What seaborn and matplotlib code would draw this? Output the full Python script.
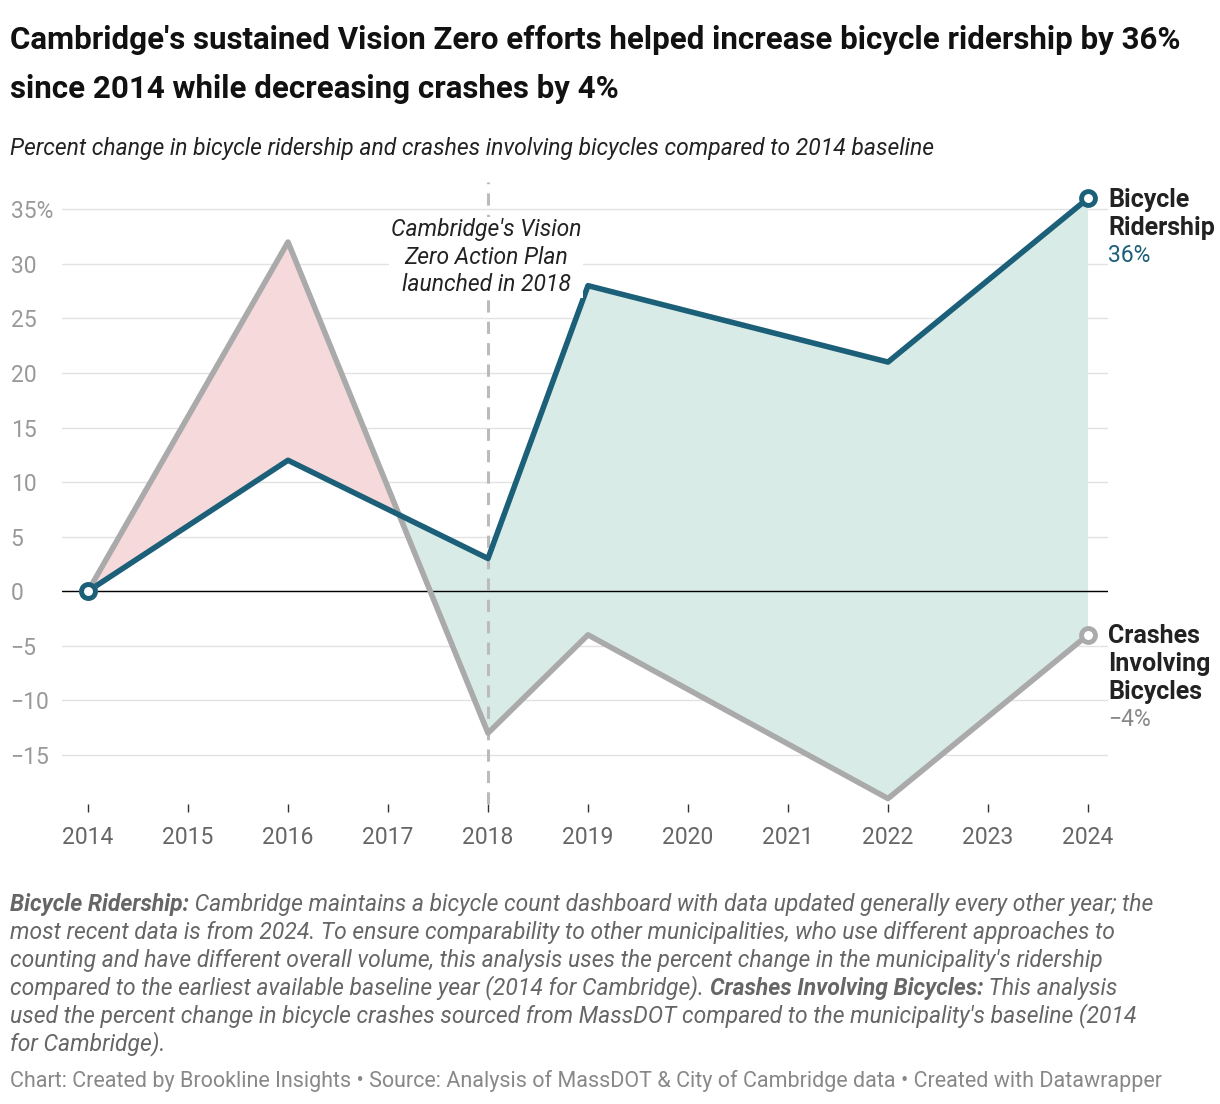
import matplotlib
matplotlib.use("Agg")
import matplotlib.pyplot as plt
import seaborn as sns
import numpy as np
import pandas as pd

years = [2014, 2016, 2018, 2019, 2022, 2024]
ridership = [0, 12, 3, 28, 21, 36]
crashes = [0, 32, -13, -4, -19, -4]
yticks = [-15, -10, -5, 0, 5, 10, 15, 20, 25, 30, 35]
ytick_labels = ["−15", "−10", "−5", "0", "5", "10", "15", "20", "25", "30", "35%"]
xticks = list(range(2014, 2025))

sns.set_theme(style="white")
plt.rcParams['font.family'] = ['Roboto', 'DejaVu Sans']

W, H = 1220, 1104
fig = plt.figure(figsize=(W/100, H/100), dpi=100)
L, R, T, B = 62, 1108, 182, 804
ax = fig.add_axes([L/W, 1-B/H, (R-L)/W, (B-T)/H])
ax.set_xlim(2014 - (88-L)/100, 2024 + (R-1088)/100)
ax.set_ylim(-19.5, 37.5)

BLUE = "#1b5f78"
GRAY = "#aaaaaa"
x = np.array(years, float); r = np.array(ridership, float); c = np.array(crashes, float)
ax.fill_between(x, r, c, where=c >= r, interpolate=True, color="#f6dadb", lw=0, zorder=1)
ax.fill_between(x, r, c, where=r >= c, interpolate=True, color="#d8ebe7", lw=0, zorder=1)

for yv in yticks:
    ax.axhline(yv, color="#e2e2e2", lw=1, zorder=0)
ax.axhline(0, color="black", lw=1, zorder=2)
ax.axvline(2018, color="#bbbbbb", lw=2.2, ls=(0, (4, 3)), zorder=2)

df = pd.DataFrame({"year": years * 2, "value": crashes + ridership,
                   "series": ["Crashes"] * 6 + ["Ridership"] * 6})
sns.lineplot(data=df, x="year", y="value", hue="series", palette={"Crashes": GRAY, "Ridership": BLUE},
             lw=4, ax=ax, legend=False, zorder=3)
for yy, col in [(crashes, GRAY), (ridership, BLUE)]:
    ax.plot([years[0], years[-1]], [yy[0], yy[-1]], 'o', ms=10, mfc="white", mec=col, mew=3.5, zorder=4)

ax.set_xticks(xticks)
ax.set_xticklabels([str(v) for v in xticks], fontsize=16.5, color="#666666")
ax.set_yticks(yticks)
ax.set_yticklabels(ytick_labels, fontsize=16.5, color="#999999", ha="left")
ax.tick_params(axis="y", length=0, pad=37)
ax.tick_params(axis="x", length=6, width=1, color="#333333", pad=10, direction="out", bottom=True)
ax.set_xlabel(""); ax.set_ylabel("")
for s in ax.spines.values():
    s.set_visible(False)

ax.text(2017.98, 30.6, "Cambridge's Vision\nZero Action Plan\nlaunched in 2018", ha="center", va="center",
        fontsize=16.5, style="italic", color="#222222", linespacing=1.25,
        bbox=dict(facecolor="white", edgecolor="none", pad=1))

fig.text(1108/W, 1-214/H, "Bicycle\nRidership", fontsize=18, fontweight="bold", color="#222222",
         va="center", linespacing=1.2)
fig.text(1108/W, 1-256/H, "36%", fontsize=16.5, color=BLUE, va="center")
fig.text(1108/W, 1-664/H, "Crashes\nInvolving\nBicycles", fontsize=18, fontweight="bold", color="#222222",
         va="center", linespacing=1.2)
fig.text(1108/W, 1-720/H, "−4%", fontsize=16.5, color="#888888", va="center")

fig.text(10/W, 1-40/H, "Cambridge's sustained Vision Zero efforts helped increase bicycle ridership by 36%",
         fontsize=22.5, fontweight="bold", color="#111111", va="center")
fig.text(10/W, 1-89/H, "since 2014 while decreasing crashes by 4%",
         fontsize=22.5, fontweight="bold", color="#111111", va="center")
fig.text(10/W, 1-148/H, "Percent change in bicycle ridership and crashes involving bicycles compared to 2014 baseline",
         fontsize=16.5, style="italic", color="#222222", va="center")

notes = [
    [("Bicycle Ridership:", True), (" Cambridge maintains a bicycle count dashboard with data updated generally every other year; the", False)],
    [("most recent data is from 2024. To ensure comparability to other municipalities, who use different approaches to", False)],
    [("counting and have different overall volume, this analysis uses the percent change in the municipality's ridership", False)],
    [("compared to the earliest available baseline year (2014 for Cambridge). ", False), ("Crashes Involving Bicycles:", True), (" This analysis", False)],
    [("used the percent change in bicycle crashes sourced from MassDOT compared to the municipality's baseline (2014", False)],
    [("for Cambridge).", False)],
]
fig.canvas.draw()
rend = fig.canvas.get_renderer()
for i, line in enumerate(notes):
    xp = 10
    yp = 904 + i * 28
    for txt, bold in line:
        t = fig.text(xp/W, 1-yp/H, txt, fontsize=16.5, style="italic", color="#666666",
                     fontweight="bold" if bold else "normal", va="center")
        bb = t.get_window_extent(renderer=rend)
        xp += bb.width
fig.text(10/W, 1-1081/H, "Chart: Created by Brookline Insights • Source: Analysis of MassDOT & City of Cambridge data • Created with Datawrapper",
         fontsize=15.5, color="#888888", va="center")

fig.savefig("out.png", dpi=100, facecolor="white")
